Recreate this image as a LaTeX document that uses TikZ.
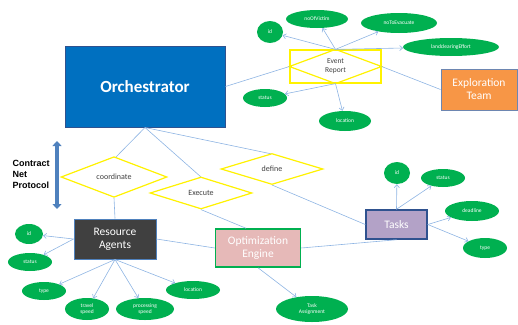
\documentclass[tikz,border=0pt]{standalone}
\usepackage{fontspec}
\setmainfont{Carlito}
\setsansfont{Carlito}
\newfontfamily\cnpfont{Liberation Sans}
\usetikzlibrary{shapes.geometric,arrows.meta}
\definecolor{orchblue}{HTML}{0070C0}
\definecolor{edgeblue}{HTML}{2F528F}
\definecolor{linkblue}{HTML}{8EB4E3}
\definecolor{attrgreen}{HTML}{00B050}
\definecolor{explorange}{HTML}{F79646}
\definecolor{agentgray}{HTML}{404040}
\definecolor{enginepink}{HTML}{E6B9B8}
\definecolor{taskpurple}{HTML}{B3A2C7}
\definecolor{cnpblue}{HTML}{4F81BD}

\begin{document}
\begin{tikzpicture}[x=1pt,y=-1pt,font=\sffamily,
 box/.style={draw=edgeblue,line width=1pt,text=white,align=center,inner sep=0pt,font=\sffamily\fontsize{11.5}{13}\selectfont},
 rel/.style={diamond,draw=yellow,line width=1.2pt,fill=white,inner sep=0pt,text=agentgray,font=\sffamily\fontsize{8}{9}\selectfont},
 attr/.style={ellipse,fill=attrgreen,inner sep=0pt,text=white,align=center,font=\sffamily\fontsize{5.5}{6}\selectfont},
 link/.style={draw=linkblue,line width=0.6pt},
 has/.style={link,-{Straight Barb[length=3pt,width=5pt]}}]
 \useasboundingbox (0,0) rectangle (518,324);
 % main boxes
 \node[box,fill=orchblue,minimum width=160pt,minimum height=81pt,font=\sffamily\bfseries\fontsize{17}{19}\selectfont] (orch) at (145,86.5) {Orchestrator};
 \node[box,fill=explorange,minimum width=76pt,minimum height=41pt,draw=edgeblue!70] (expl) at (479,89.5) {Exploration\\Team};
 \node[box,fill=agentgray,minimum width=82pt,minimum height=40pt,draw=cnpblue] (ra) at (115,239) {Resource\\Agents};
 \node[box,fill=enginepink,draw=attrgreen,line width=1.5pt,minimum width=85pt,minimum height=38pt] (oe) at (258,248) {Optimization\\Engine};
 \node[box,fill=taskpurple,line width=1.5pt,minimum width=61pt,minimum height=29pt] (tasks) at (396.5,224.5) {Tasks};
 % event report: box with a diamond in it
 \node[draw=yellow,line width=1.2pt,minimum width=91pt,minimum height=33pt,inner sep=0pt] (ev) at (335.5,66.5) {};
 \draw[yellow,line width=1.2pt] (ev.west)--(ev.north)--(ev.east)--(ev.south)--cycle;
 \node[align=center,text=agentgray,font=\sffamily\fontsize{7.5}{9}\selectfont] at (ev) {Event\\Report};
 % links behind the diamonds
 \draw[link] (orch.east)--(ev.west) (ev.east)--(expl.west);
 \draw[link] (orch.south)--(272,154) coordinate (dtop);
 \draw[link] (orch.south)--(114,159) (orch.south)--(201,177);
 \draw[link] (272,185)--(tasks.west);
 \node[rel,minimum width=106pt,minimum height=37pt] (coord) at (114,177) {coordinate};
 \node[rel,minimum width=102pt,minimum height=32pt] (exec) at (201,193) {Execute};
 \node[rel,minimum width=102pt,minimum height=31pt] (def) at (272,169) {define};
 \draw[link] (coord.south)--(ra.north);
 \draw[link] (exec.south)--([xshift=-12pt]oe.north);
 \draw[link] (ra.east)--(oe.west) (oe.east)--(tasks.south);
 % attributes
 \node[attr,minimum width=26pt,minimum height=22pt] (eid) at (270,32) {id};
 \node[attr,minimum width=62pt,minimum height=18pt] (evict) at (317,19) {noOfVictim};
 \node[attr,minimum width=76pt,minimum height=20pt] (evac) at (399,23) {noToEvacuate};
 \node[attr,minimum width=96pt,minimum height=18pt] (eland) at (451,47) {landclearingEffort};
 \node[attr,minimum width=44pt,minimum height=18pt] (estat) at (265,98) {status};
 \node[attr,minimum width=52pt,minimum height=20pt] (eloc) at (345,121) {location};
 \foreach \a in {eid,evict,evac,eland} \draw[has] (ev.north)--(\a);
 \foreach \a in {estat,eloc} \draw[has] (ev.south)--(\a);
 \node[attr,minimum width=28pt,minimum height=20pt] (rid) at (29,234) {id};
 \node[attr,minimum width=44pt,minimum height=18pt] (rstat) at (30,262) {status};
 \node[attr,minimum width=44pt,minimum height=18pt] (rtype) at (44,291) {type};
 \node[attr,minimum width=44pt,minimum height=22pt] (rtrav) at (87,309) {travel\\speed};
 \node[attr,minimum width=58pt,minimum height=22pt] (rproc) at (145,309) {processing\\speed};
 \node[attr,minimum width=54pt,minimum height=18pt] (rloc) at (193,290) {location};
 \foreach \a in {rid,rstat} \draw[has] (ra.west)--(\a);
 \foreach \a in {rtype,rtrav,rproc,rloc} \draw[has] (ra.south)--(\a);
 \node[attr,minimum width=26pt,minimum height=22pt] (tid) at (397,173) {id};
 \node[attr,minimum width=44pt,minimum height=18pt] (tstat) at (443,178) {status};
 \node[attr,minimum width=54pt,minimum height=20pt] (tdead) at (472,211) {deadline};
 \node[attr,minimum width=44pt,minimum height=20pt] (ttype) at (485,248) {type};
 \node[attr,minimum width=72pt,minimum height=26pt] (tassign) at (312,309) {Task\\Assignment};
 \foreach \a in {tid,tstat} \draw[has] (tasks.north)--(\a);
 \foreach \a in {tdead,ttype} \draw[has] (tasks.east)--(\a);
 \draw[has] (oe.south)--(tassign);
 % contract net protocol
 \node[anchor=west,align=left,font=\cnpfont\bfseries\fontsize{9}{11}\selectfont] (cnp) at (9,174) {Contract\\Net\\Protocol};
 \draw[cnpblue,line width=3.5pt,{Triangle[length=5pt,width=9pt]}-{Triangle[length=5pt,width=9pt]}] (57,141) coordinate (ctop)--(57,209) coordinate (cbot);
\end{tikzpicture}
\end{document}
